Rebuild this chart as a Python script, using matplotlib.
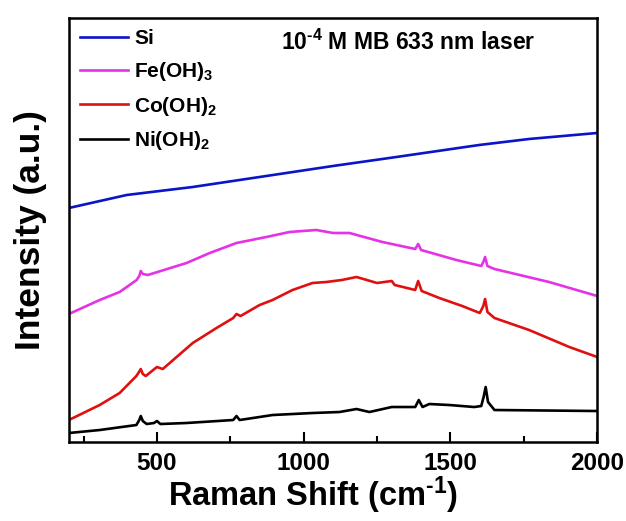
import matplotlib
matplotlib.use("Agg")
import matplotlib.pyplot as plt
from matplotlib.ticker import MultipleLocator

plt.rcParams['font.family'] = ['Liberation Sans', 'DejaVu Sans']
plt.rcParams['font.weight'] = 'bold'
plt.rcParams['mathtext.fontset'] = 'custom'
plt.rcParams['mathtext.rm'] = 'Liberation Sans:bold'
plt.rcParams['mathtext.bf'] = 'Liberation Sans:bold'
plt.rcParams['mathtext.it'] = 'Liberation Sans:bold'
plt.rcParams['mathtext.default'] = 'bf'

si_x = [200, 397, 622, 850, 1100, 1316, 1598, 1768, 2000]
si_y = [234, 247, 255, 265, 276, 285, 297, 303, 309]

fe_x = [200, 305, 373, 431, 440, 445, 452, 469, 601, 680, 771, 873, 952, 1043, 1100, 1156, 1268,
        1380, 1390, 1400, 1520, 1605, 1612, 1618, 1626, 1650, 1836, 2000]
fe_y = [128, 142, 150, 162, 166, 171, 168, 167, 179, 189, 199, 205, 210, 212, 209, 209, 200,
        193, 198, 192, 182, 176, 180, 185, 176, 173, 160, 146]

co_x = [200, 305, 373, 430, 439, 445, 452, 462, 500, 520, 622, 703, 760, 771, 785, 850, 894, 962,
        1030, 1077, 1130, 1180, 1250, 1300, 1310, 1380, 1390, 1402, 1462, 1540, 1600, 1612, 1618,
        1626, 1650, 1768, 1905, 2000]
co_y = [22, 37, 49, 66, 70, 73, 68, 66, 75, 73, 99, 114, 124, 128, 126, 137, 142, 152,
        159, 160, 162, 165, 159, 161, 157, 152, 161, 151, 144, 136, 129, 136, 143,
        130, 124, 112, 95, 85]

ni_x = [200, 305, 430, 440, 445, 452, 465, 490, 500, 512, 600, 760, 771, 782, 894, 1030, 1122,
        1180, 1224, 1300, 1380, 1392, 1405, 1428, 1496, 1581, 1605, 1613, 1620, 1628, 1650, 2000]
ni_y = [9, 12, 17, 22, 26, 21, 18, 19, 21, 18, 19, 22, 26, 22, 27, 29, 30,
        33, 30, 35, 35, 42, 35, 38, 37, 35, 36, 45, 55, 40, 32, 31]

labels = ['Si', 'Fe(OH)$_3$', 'Co(OH)$_2$', 'Ni(OH)$_2$']
colors = ['#0a14c8', '#e632e6', '#e01010', '#000000']

fig = plt.figure(figsize=(6.26, 5.21), dpi=100)
ax = fig.add_axes([0.110, 0.1516, 0.844, 0.8139])

for xs, ys, lab, c in zip([si_x, fe_x, co_x, ni_x], [si_y, fe_y, co_y, ni_y], labels, colors):
    ax.plot(xs, ys, color=c, lw=1.9, label=lab)

ax.set_xlim(200, 2000)
ax.set_ylim(0, 424)
ax.xaxis.set_major_locator(MultipleLocator(500))
ax.xaxis.set_minor_locator(MultipleLocator(250))
ax.tick_params(axis='x', which='major', direction='in', length=7, width=1.5,
               labelsize=17.5, pad=7, top=False)
ax.tick_params(axis='x', which='minor', direction='in', length=4, width=1.5, top=False)
ax.set_yticks([])
for lab in ax.get_xticklabels():
    lab.set_fontweight('bold')
for sp in ax.spines.values():
    sp.set_linewidth(1.8)

ax.set_xlabel('Raman Shift (cm$^{\\text{-}1}$)', fontsize=23.5, fontweight='bold', labelpad=0)
ax.xaxis.label.set_x(0.462)
ax.set_ylabel('Intensity (a.u.)', fontsize=25.5, fontweight='bold', labelpad=16)

leg = ax.legend(loc='upper left', frameon=False, handlelength=2.3,
                handletextpad=0.3, labelspacing=0.56, borderaxespad=0.15,
                prop={'weight': 'bold', 'size': 15})
ax.text(0.402, 0.943, '10$^{\\text{-}4}$ M MB 633 nm laser', transform=ax.transAxes,
        fontsize=16.5, fontweight='bold', va='center', ha='left')

fig.savefig('out.png', dpi=100)
